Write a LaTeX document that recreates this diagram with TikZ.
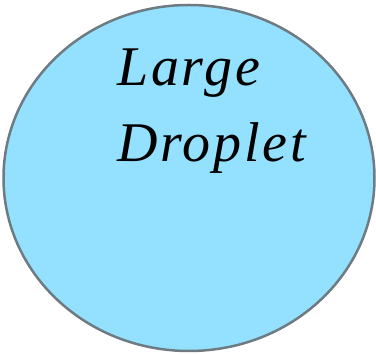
\documentclass[tikz,border=0pt]{standalone}
\usepackage{fontspec}
\setmainfont{Liberation Serif}
\usetikzlibrary{shapes.geometric}
\definecolor{dropfill}{HTML}{93E1FF}
\definecolor{dropline}{HTML}{6E7B82}

\begin{document}
\begin{tikzpicture}[
  x=1pt,
  y=1pt,
  drop/.style={draw=dropline,fill=dropfill,ellipse,line width=2.5pt,
    minimum width=371pt,minimum height=346pt,inner sep=0pt},
  caption/.style={font=\fontsize{56}{76}\selectfont\itshape\addfontfeatures{LetterSpace=5},
    align=left,inner sep=0pt,anchor=base west}
]
\useasboundingbox (0,0) rectangle (376,355);
% Droplet
\node[drop] (drop) at (189,177) {};
% Label (anchor sits on the last line's baseline)
\node[caption] (label) at (117,193) {Large\\Droplet};
\end{tikzpicture}
\end{document}
